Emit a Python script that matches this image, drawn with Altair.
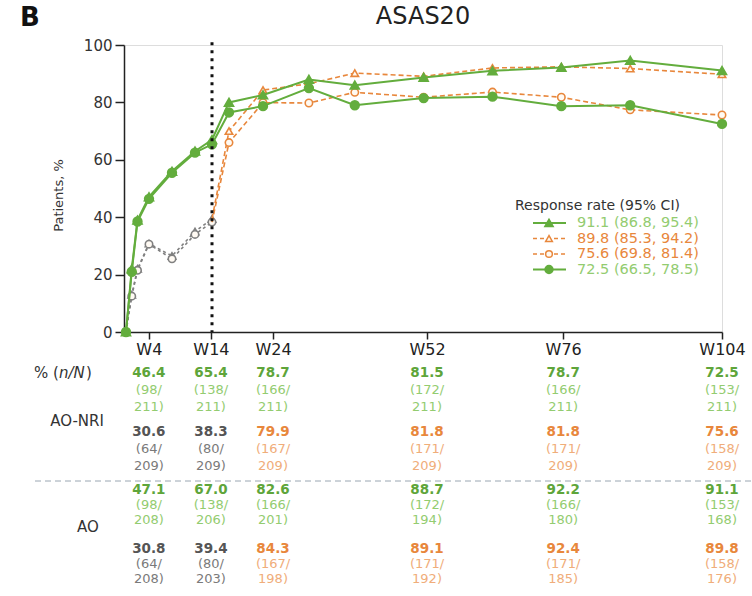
import altair as alt
import pandas as pd

# ---- ASAS20 response (%) by study week -------------------------------------
weeks = [0, 1, 2, 4, 8, 12, 14, 16, 24, 32, 40, 52, 64, 76, 88, 104]
ao_active = [0, 22, 39, 47.1, 56, 63, 67.0, 80, 82.6, 88, 86, 88.7, 91, 92.2, 94.6, 91.1]
nri_active = [0, 21, 38.5, 46.4, 55.5, 62.5, 65.4, 76.5, 78.7, 85, 79, 81.5, 82, 78.7, 79, 72.5]
ao_placebo = [0, 13, 22, 30.8, 26.5, 35, 39.4, 70, 84.3, 86.5, 90.2, 89.1, 92, 92.4, 91.8, 89.8]
nri_placebo = [0, 12.5, 21.5, 30.6, 25.5, 34, 38.3, 66, 79.9, 79.8, 83.5, 81.8, 83.6, 81.8, 77.4, 75.6]
switch_week = 14  # placebo patients switch to active treatment

# ---- table under the plot ----------------------------------------------------
table_weeks = [4, 14, 24, 52, 76, 104]
nri_act_pct = [46.4, 65.4, 78.7, 81.5, 78.7, 72.5]
nri_act_n = [98, 138, 166, 172, 166, 153]
nri_act_N = [211, 211, 211, 211, 211, 211]
nri_pbo_pct = [30.6, 38.3, 79.9, 81.8, 81.8, 75.6]
nri_pbo_n = [64, 80, 167, 171, 171, 158]
nri_pbo_N = [209, 209, 209, 209, 209, 209]
ao_act_pct = [47.1, 67.0, 82.6, 88.7, 92.2, 91.1]
ao_act_n = [98, 138, 166, 172, 166, 153]
ao_act_N = [208, 206, 201, 194, 180, 168]
ao_pbo_pct = [30.8, 39.4, 84.3, 89.1, 92.4, 89.8]
ao_pbo_n = [64, 80, 167, 171, 171, 158]
ao_pbo_N = [208, 203, 198, 192, 185, 176]

legend_title = "Response rate (95% CI)"
legend_labels = ["91.1 (86.8, 95.4)", "89.8 (85.3, 94.2)",
                 "75.6 (69.8, 81.4)", "72.5 (66.5, 78.5)"]

# ---- styling -------------------------------------------------------------------
FONT = "DejaVu Sans"
GREEN = "#63ad3d"
GREEN_TXT = "#5ea53a"
GREEN_TXT_LIGHT = "#93cc70"
ORANGE = "#e8873c"
ORANGE_TXT_LIGHT = "#f0ad7a"
GRAY = "#808080"
GRAY_TXT = "#555555"
GRAY_TXT_LIGHT = "#7a7a7a"
DARK = "#222222"

W, H = 598, 287
PAD_L, PAD_T = 124, 45

# visit spacing on the time axis is uneven in the early weeks
x_data = alt.Scale(domain=[0, 4, 12, 14, 16, 24, 104],
                   range=[2, 25, 71, 88, 105, 139, 598], nice=False, zero=False)
x_ticks = alt.Scale(domain=[0, 24, 52, 104], range=[0, 149, 303, 598],
                    nice=False, zero=False)
y_scale = alt.Scale(domain=[0, 100], nice=False, zero=False)
y_axis = alt.Axis(values=[0, 20, 40, 60, 80, 100], tickSize=9, tickWidth=1.5,
                  tickColor=DARK, domainColor=DARK, domainWidth=1.5,
                  labelFontSize=15, labelColor="#333", labelPadding=3,
                  title="Patients, %", titleFontSize=13, titleFontWeight="normal",
                  titleColor="#333", titleX=-66, titleY=150, titleAngle=270,
                  titleAlign="center", titleBaseline="middle", grid=False)


def series_df(values, lo=None, hi=None):
    df = pd.DataFrame({"week": weeks, "pct": values})
    if lo is not None:
        df = df[df.week >= lo]
    if hi is not None:
        df = df[df.week <= hi]
    return df


def series_layers(df, color, shape, dash, filled, point_min=None):
    enc = dict(x=alt.X("week:Q", scale=x_data, axis=None),
               y=alt.Y("pct:Q", scale=y_scale, axis=y_axis))
    line_kw = dict(color=color, strokeWidth=2 if dash is None else 1.6)
    if dash is not None:
        line_kw["strokeDash"] = dash
    line = alt.Chart(df).mark_line(**line_kw).encode(**enc)
    pdf = df if point_min is None else df[df.week > point_min]
    if filled:
        pt = alt.Chart(pdf).mark_point(shape=shape, filled=True, fill=color,
                                       stroke=color, size=70, opacity=1)
    else:
        pt = alt.Chart(pdf).mark_point(shape=shape, filled=False, fill="#fffaf3",
                                       fillOpacity=1, stroke=color,
                                       strokeWidth=1.6, size=55, opacity=1)
    return [line, pt.encode(**enc)]


layers = []

# placebo period (grey), then placebo -> active (orange), then active (green)
layers += series_layers(series_df(ao_placebo, hi=switch_week), GRAY, "triangle-up", [3, 3], False)
layers += series_layers(series_df(nri_placebo, hi=switch_week), GRAY, "circle", [3, 3], False)
layers += series_layers(series_df(ao_placebo, lo=switch_week), ORANGE, "triangle-up", [5, 3], False,
                        point_min=switch_week)
layers += series_layers(series_df(nri_placebo, lo=switch_week), ORANGE, "circle", [5, 3], False,
                        point_min=switch_week)
layers += series_layers(series_df(nri_active), GREEN, "circle", None, True)
layers += series_layers(series_df(ao_active), GREEN, "triangle-up", None, True)

# dotted marker of the treatment switch
layers.append(
    alt.Chart(pd.DataFrame({"week": [switch_week], "pct": [101], "pct2": [0]}))
    .mark_rule(strokeDash=[3, 5], strokeWidth=3, color="#111")
    .encode(x=alt.X("week:Q", scale=x_data, axis=None),
            y=alt.Y("pct:Q", scale=y_scale, axis=y_axis), y2="pct2:Q")
)

# ---- table rows ------------------------------------------------------------------
x_axis = alt.Axis(values=table_weeks, labelExpr="'W' + datum.value", orient="bottom",
                  tickSize=7, tickWidth=1.5, tickColor=DARK, domainColor=DARK,
                  domainWidth=1.5, labelFontSize=16, labelColor=DARK, labelPadding=2,
                  labelFlush=False, labelOverlap=False, grid=False, title=None)


def group_layers(pct, n, N, rows_y, strong, light, first=False):
    df = pd.DataFrame({"week": table_weeks, "pct": pct,
                       "n_txt": ["(%d/" % v for v in n],
                       "N_txt": ["%d)" % v for v in N]})
    out = []
    specs = [("pct", True), ("n_txt", False), ("N_txt", False)]
    for i, ((field, bold), py) in enumerate(zip(specs, rows_y)):
        col = strong if bold else light
        if isinstance(col, tuple):
            color = alt.condition(alt.datum.week <= switch_week,
                                  alt.value(col[0]), alt.value(col[1]))
        else:
            color = alt.value(col)
        ax = x_axis if (first and i == 0) else None
        mk = alt.Chart(df).mark_text(font=FONT, fontSize=13.5 if bold else 13,
                                     fontWeight="bold" if bold else "normal",
                                     align="center", baseline="middle")
        txt = (alt.Text("pct:Q", format=".1f") if field == "pct"
               else alt.Text(field + ":N"))
        out.append(mk.encode(x=alt.X("week:Q", scale=x_ticks, axis=ax),
                             y=alt.value(py - PAD_T), text=txt, color=color))
    return out


layers += group_layers(nri_act_pct, nri_act_n, nri_act_N, [373, 390, 407],
                       GREEN_TXT, GREEN_TXT_LIGHT, first=True)
layers += group_layers(nri_pbo_pct, nri_pbo_n, nri_pbo_N, [432, 449, 466],
                       (GRAY_TXT, ORANGE), (GRAY_TXT_LIGHT, ORANGE_TXT_LIGHT))
layers += group_layers(ao_act_pct, ao_act_n, ao_act_N, [490, 505, 520],
                       GREEN_TXT, GREEN_TXT_LIGHT)
layers += group_layers(ao_pbo_pct, ao_pbo_n, ao_pbo_N, [549, 564, 579],
                       (GRAY_TXT, ORANGE), (GRAY_TXT_LIGHT, ORANGE_TXT_LIGHT))


def label(text, px, py, size=15, weight="normal", align="center", style="normal",
          color="#333"):
    return (alt.Chart(pd.DataFrame({"t": [text]}))
            .mark_text(font=FONT, fontSize=size, fontWeight=weight, align=align,
                       baseline="middle", fontStyle=style, color=color)
            .encode(x=alt.value(px - PAD_L), y=alt.value(py - PAD_T), text="t:N"))


# row headers
layers += [
    label("% (", 34, 373, align="left"),
    label("n/N", 59, 373, align="left", style="italic"),
    label(")", 86, 373, align="left"),
    label("AO-NRI", 77, 421),
    label("AO", 88, 527),
    label("B", 30, 18, size=26, weight="bold", color="#111"),
    label("ASAS20", 423, 17, size=24, color=DARK),
]

# dashed separator between the AO-NRI and AO blocks
layers.append(
    alt.Chart(pd.DataFrame({"t": [0]}))
    .mark_rule(strokeDash=[6, 4], strokeWidth=1, color="#9aa6b2")
    .encode(x=alt.value(35 - PAD_L), x2=alt.value(752 - PAD_L), y=alt.value(481 - PAD_T))
)

# ---- legend -------------------------------------------------------------------
legend_style = [(GREEN, "triangle-up", None, True),
                (ORANGE, "triangle-up", [4, 3], False),
                (ORANGE, "circle", [4, 3], False),
                (GREEN, "circle", None, True)]
layers.append(label(legend_title, 515, 206, size=14, align="left", color="#333"))
for i, (text, (col, shape, dash, filled)) in enumerate(zip(legend_labels, legend_style)):
    py = 223 + i * 15.5
    one = pd.DataFrame({"t": [text]})
    rule_kw = dict(color=col, strokeWidth=2 if filled else 1.6)
    if dash is not None:
        rule_kw["strokeDash"] = dash
    layers.append(alt.Chart(one).mark_rule(**rule_kw).encode(
        x=alt.value(533 - PAD_L), x2=alt.value(566 - PAD_L), y=alt.value(py - PAD_T)))
    if filled:
        pm = alt.Chart(one).mark_point(shape=shape, filled=True, fill=col, stroke=col,
                                       size=55, opacity=1)
    else:
        pm = alt.Chart(one).mark_point(shape=shape, filled=False, fill="#fffaf3",
                                       fillOpacity=1, stroke=col, strokeWidth=1.5,
                                       size=45, opacity=1)
    layers.append(pm.encode(x=alt.value(549 - PAD_L), y=alt.value(py - PAD_T)))
    layers.append(label(text, 577, py, size=14.5, align="left",
                        color=GREEN_TXT_LIGHT if filled else ORANGE))

chart = (
    alt.layer(*layers)
    .resolve_scale(x="independent")
    .properties(width=W, height=H,
                padding={"left": PAD_L, "top": PAD_T, "right": 752 - PAD_L - W,
                         "bottom": 596 - PAD_T - H},
                autosize=alt.AutoSizeParams(type="none"))
    .configure_view(stroke=None)
    .configure(font=FONT, background="white")
)

chart.save("out.html", embed_options={"renderer": "svg", "actions": False})
